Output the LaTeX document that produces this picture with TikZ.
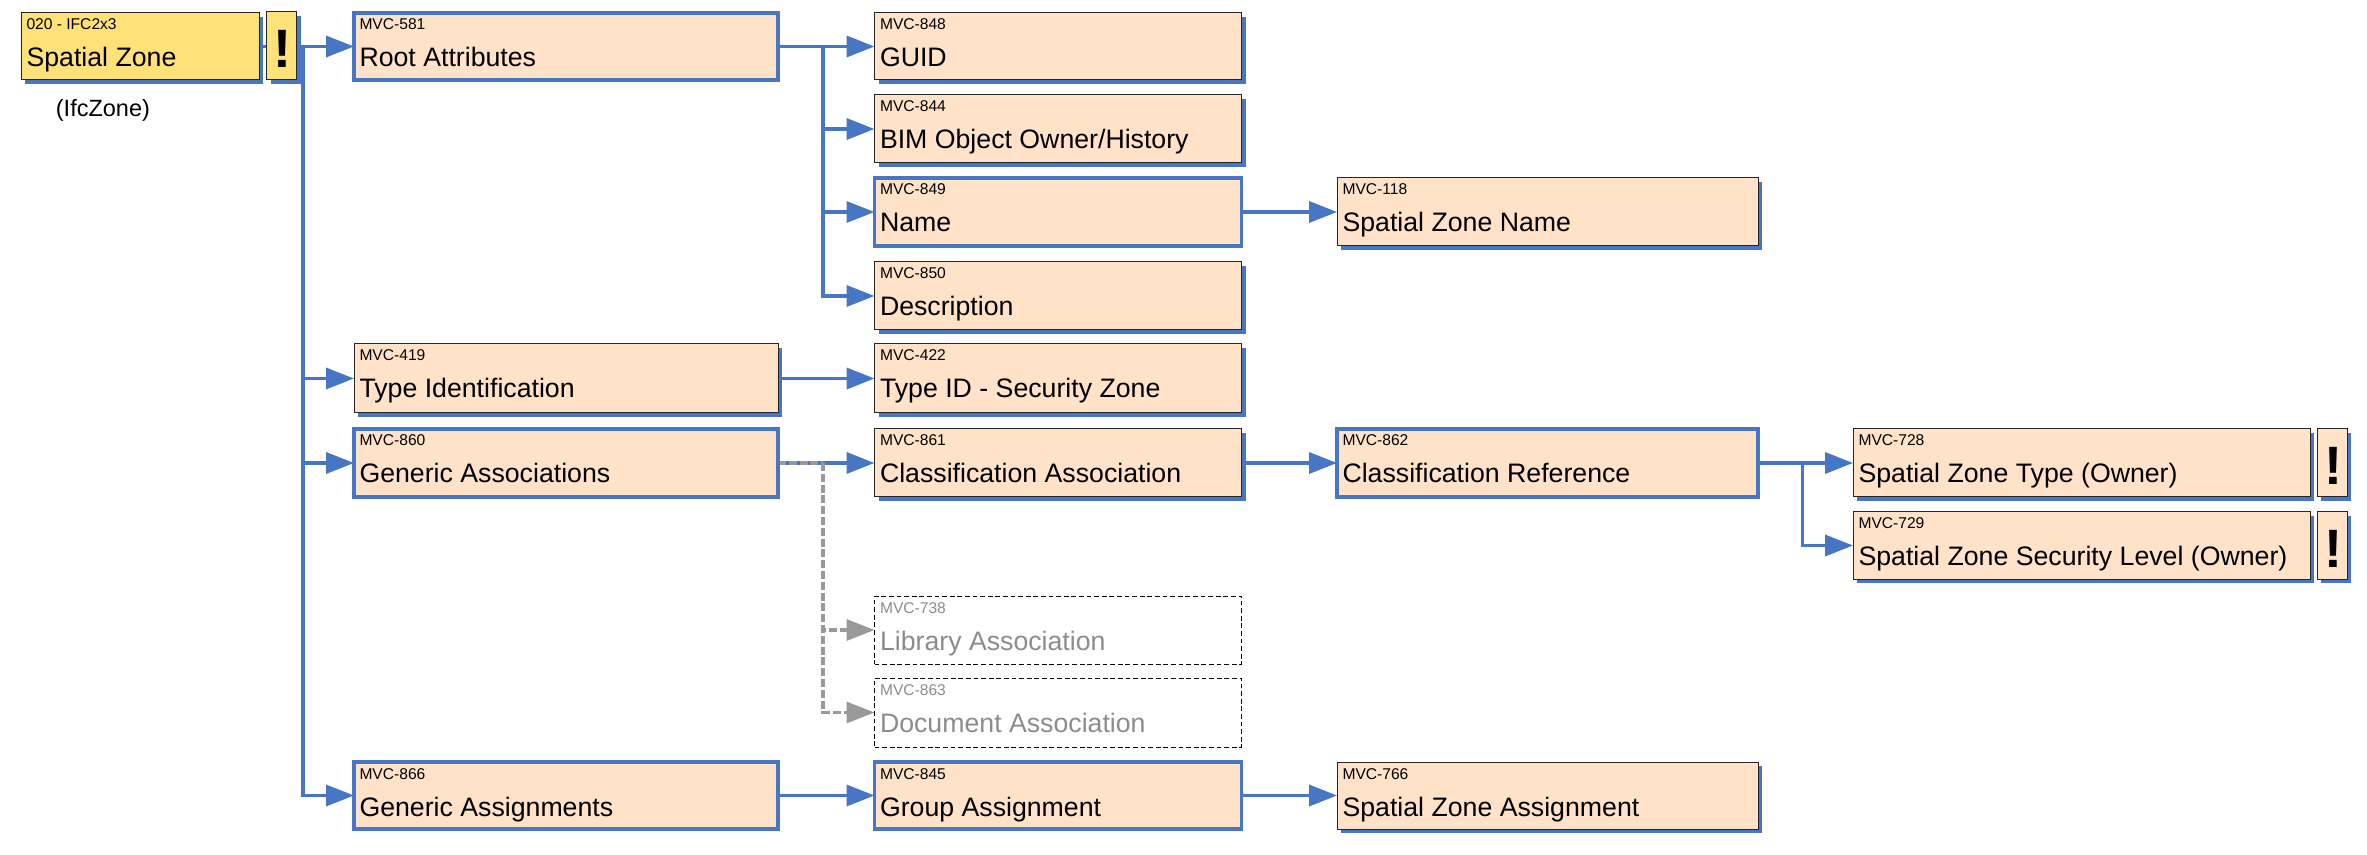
\documentclass[tikz,border=0pt]{standalone}
\usepackage{fontspec}
\setmainfont{Liberation Sans}
\usetikzlibrary{arrows.meta,shadows,calc,backgrounds}
\definecolor{zblue}{HTML}{4676C4}
\definecolor{zpeach}{HTML}{FFE2C8}
\definecolor{zyellow}{HTML}{FFE17A}
\definecolor{zgrey}{HTML}{999999}
\definecolor{ztxt}{HTML}{8C8C8C}
\tikzset{
  basebox/.style={rectangle,inner sep=0pt,outer sep=0pt,anchor=north west},
  plainbox/.style={basebox,draw=black!85,line width=0.5pt,fill=zpeach,
    general shadow={fill=zblue,shadow xshift=2.2pt,shadow yshift=-2.2pt}},
  yellowbox/.style={plainbox,fill=zyellow},
  bluebox/.style={basebox,draw=zblue,line width=1.8pt,fill=zpeach},
  faintbox/.style={basebox,draw=black,line width=0.45pt,dash pattern=on 2.4pt off 1.4pt},
  idtext/.style={inner sep=0pt,outer sep=0pt,anchor=base west,font=\fontsize{7.8}{9}\selectfont},
  maintext/.style={inner sep=0pt,outer sep=0pt,anchor=base west,font=\fontsize{13.35}{16}\selectfont},
  warntext/.style={font=\fontsize{27}{30}\selectfont\bfseries},
  conn/.style={draw=zblue,line width=1.8pt,-{Triangle[length=14pt,width=10.5pt,fill=zblue]}},
  dconn/.style={draw=zgrey,line width=1.6pt,dash pattern=on 4pt off 1.4pt,-{Triangle[length=14pt,width=10.5pt,fill=zgrey]}},
  dline/.style={draw=zgrey,line width=1.6pt,dash pattern=on 4pt off 1.4pt},
}
\newcommand{\mvcbox}[8]{%
  \pgfmathsetmacro{\zw}{(#5-#3)*0.5}\pgfmathsetmacro{\zh}{(#6-#4)*0.5}%
  \node[#1,minimum width=\zw pt,minimum height=\zh pt] (#2) at (#3,#4) {};
  \node[idtext] (#2-id) at ($(#2.north west)+(5.5,17)$) {#7};
  \node[maintext] (#2-name) at ($(#2.north west)+(5.5,54)$) {#8};
}
\newcommand{\warnbox}[6]{%
  \pgfmathsetmacro{\zw}{(#5-#3)*0.5}\pgfmathsetmacro{\zh}{(#6-#4)*0.5}%
  \node[#1,minimum width=\zw pt,minimum height=\zh pt] (#2) at (#3,#4) {};
  \node[warntext,inner sep=0pt] (#2-mark) at ($(#2.center)+(1,3)$) {!};
}
\begin{document}
\begin{tikzpicture}[x=0.5pt,y=-0.5pt]
\useasboundingbox (0,0) rectangle (2367,855);

\mvcbox{yellowbox}{sz}{21}{13}{259}{80}{020 - IFC2x3}{Spatial Zone}
\warnbox{yellowbox}{w0}{266.5}{12}{296.5}{79.5}
\node[inner sep=0pt,anchor=base west,font=\fontsize{11.75}{14}\selectfont] (ifc) at (55.5,117) {(IfcZone)};

\mvcbox{bluebox}{r581}{354}{13}{778}{80}{MVC-581}{Root Attributes}
\mvcbox{plainbox}{r419}{354}{344}{778}{413}{MVC-419}{Type Identification}
\mvcbox{bluebox}{r860}{354}{429}{778}{497}{MVC-860}{Generic Associations}
\mvcbox{bluebox}{r866}{354}{762}{778}{829}{MVC-866}{Generic Assignments}

\mvcbox{plainbox}{r848}{874.5}{13}{1241.5}{80}{MVC-848}{GUID}
\mvcbox{plainbox}{r844}{874.5}{95}{1241.5}{163}{MVC-844}{BIM Object Owner/History}
\mvcbox{bluebox}{r849}{874.5}{178}{1241.5}{246}{MVC-849}{Name}
\mvcbox{plainbox}{r850}{874.5}{262}{1241.5}{330}{MVC-850}{Description}
\mvcbox{plainbox}{r422}{874.5}{344}{1241.5}{413}{MVC-422}{Type ID - Security Zone}
\mvcbox{plainbox}{r861}{874.5}{429}{1241.5}{497}{MVC-861}{Classification Association}
\begin{scope}[every node/.style={text=ztxt}]
\mvcbox{faintbox}{r738}{874.5}{596}{1241.5}{664}{MVC-738}{Library Association}
\mvcbox{faintbox}{r863}{874.5}{678}{1241.5}{747}{MVC-863}{Document Association}
\end{scope}
\mvcbox{bluebox}{r845}{874.5}{762}{1241.5}{829}{MVC-845}{Group Assignment}

\mvcbox{plainbox}{r118}{1337}{178}{1758}{246}{MVC-118}{Spatial Zone Name}
\mvcbox{bluebox}{r862}{1337}{429}{1758}{497}{MVC-862}{Classification Reference}
\mvcbox{plainbox}{r766}{1337}{762}{1758}{829}{MVC-766}{Spatial Zone Assignment}

\mvcbox{plainbox}{r728}{1853}{429}{2310}{497}{MVC-728}{Spatial Zone Type (Owner)}
\mvcbox{plainbox}{r729}{1853}{512}{2310}{579}{MVC-729}{Spatial Zone Security Level (Owner)}
\warnbox{plainbox}{w1}{2317}{429}{2347}{497}
\warnbox{plainbox}{w2}{2317}{512}{2347}{579}

\coordinate (t0) at (303,46.5);
\coordinate (t1) at (823,46.5);
\coordinate (t2) at (823,463);
\coordinate (t3) at (1802.5,463);

\begin{scope}[on background layer]
\draw[conn] (sz.east) -- (r581.west);
\draw[conn] (t0) |- (r419.west);
\draw[conn] (t0) |- (r860.west);
\draw[conn] (t0) |- (r866.west);
\draw[conn] (r581.east) -- (r848.west);
\draw[conn] (t1) |- (r844.west);
\draw[conn] (t1) |- (r849.west);
\draw[conn] (t1) |- (r850.west);
\draw[conn] (r849.east) -- (r118.west);
\draw[conn] (r419.east) -- (r422.west);
\draw[conn] (r860.east) -- (r861.west);
\draw[conn] (r861.east) -- (r862.west);
\draw[conn] (r862.east) -- (r728.west);
\draw[conn] (t3) |- (r729.west);
\draw[conn] (r866.east) -- (r845.west);
\draw[conn] (r845.east) -- (r766.west);
\draw[dline] (r860.east) -- (t2);
\draw[dconn] (t2) |- (r738.west);
\draw[dconn] (t2) |- (r863.west);
\end{scope}
\end{tikzpicture}
\end{document}
